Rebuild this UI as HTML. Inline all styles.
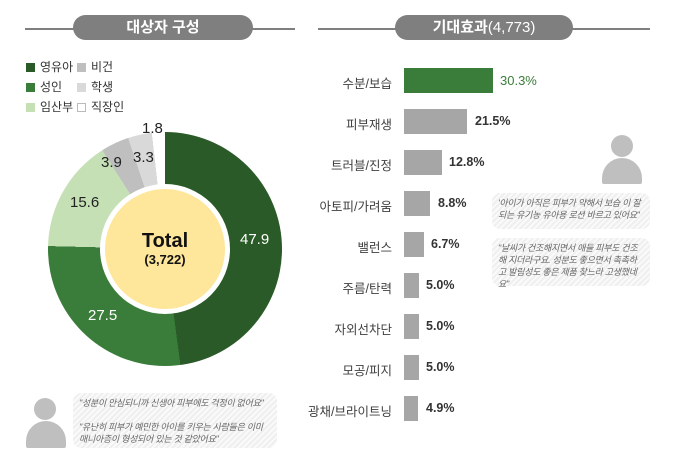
<!DOCTYPE html><html><head><meta charset="utf-8"><style>
body{margin:0;width:680px;height:451px;background:#fff;position:relative;overflow:hidden;font-family:"Liberation Sans","Noto Sans CJK KR",sans-serif;}
.a{position:absolute}
.line{position:absolute;height:2px;background:#7f7f7f}
.pill{position:absolute;background:#7f7f7f;color:#fff;border-radius:13px;text-align:center;font-weight:bold;font-size:15px;line-height:25px}
.lg{position:absolute;font-size:12px;color:#333;line-height:14px}
.sq{display:inline-block;width:9px;height:9px;margin-right:5px;vertical-align:-1px}
.lab{position:absolute;left:290px;width:102px;text-align:right;font-size:12.5px;color:#404040}
.bar{position:absolute;left:404px;height:25px;background:#a6a6a6}
.val{position:absolute;font-size:12.5px;font-weight:bold;color:#333}
.q{position:absolute;border-radius:8px;background:repeating-linear-gradient(135deg,#efefef 0 2px,#fafafa 2px 4px);font-style:italic;font-size:9px;color:#666;line-height:12px;padding:4px 6px;box-sizing:border-box;letter-spacing:-0.3px}
.pl{position:absolute;font-size:15px;color:#222}
</style></head><body>
<div class="line" style="left:25px;top:28px;width:270px"></div>
<div class="pill" style="left:73px;top:15px;width:180px">대상자 구성</div>
<div class="line" style="left:318px;top:28px;width:332px"></div>
<div class="pill" style="left:395px;top:15px;width:178px">기대효과<span style="font-weight:normal">(4,773)</span></div>

<div class="lg" style="left:26px;top:60px"><span class="sq" style="background:#2a5a27"></span>영유아</div>
<div class="lg" style="left:77px;top:60px"><span class="sq" style="background:#bfbfbf"></span>비건</div>
<div class="lg" style="left:26px;top:80px"><span class="sq" style="background:#3a7d3a"></span>성인</div>
<div class="lg" style="left:77px;top:80px"><span class="sq" style="background:#d9d9d9"></span>학생</div>
<div class="lg" style="left:26px;top:100px"><span class="sq" style="background:#c5e0b4"></span>임산부</div>
<div class="lg" style="left:77px;top:100px"><span class="sq" style="background:#fff;border:1px solid #bbb;width:7px;height:7px"></span>직장인</div>

<div class="a" style="left:48px;top:132px;width:234px;height:234px;border-radius:50%;background:conic-gradient(#2a5a27 0 47.9%,#3a7d3a 47.9% 75.4%,#c5e0b4 75.4% 91%,#bfbfbf 91% 94.9%,#d9d9d9 94.9% 98.2%,#fff 98.2% 100%)"></div>
<div class="a" style="left:100px;top:184px;width:130px;height:130px;border-radius:50%;background:#fff"></div>
<div class="a" style="left:105px;top:189px;width:120px;height:120px;border-radius:50%;background:#fee69a"></div>
<div class="a" style="left:105px;top:230px;width:120px;text-align:center;font-weight:bold;font-size:20px;color:#111">Total</div>
<div class="a" style="left:105px;top:252px;width:120px;text-align:center;font-weight:bold;font-size:13px;color:#111">(3,722)</div>
<div class="pl" style="left:240px;top:231px;color:#fff">47.9</div>
<div class="pl" style="left:88px;top:307px;color:#fff">27.5</div>
<div class="pl" style="left:70px;top:194px">15.6</div>
<div class="pl" style="left:101px;top:154px">3.9</div>
<div class="pl" style="left:133px;top:149px">3.3</div>
<div class="pl" style="left:142px;top:120px">1.8</div>

<div class="a" style="left:34px;top:398px;width:22px;height:22px;border-radius:50%;background:#bfbfbf"></div>
<div class="a" style="left:26px;top:421px;width:40px;height:27px;border-radius:20px 20px 2px 2px;background:#bfbfbf"></div>
<div class="q" style="left:73px;top:393px;width:204px;height:55px">"성분이 안심되니까 신생아 피부에도 걱정이 없어요"<br><br>"유난히 피부가 예민한 아이를 키우는 사람들은 이미 매니아층이 형성되어 있는 것 같았어요"</div>

<div class="lab" style="top:73px">수분/보습</div><div class="bar" style="top:68px;width:89px;background:#3a7d3a"></div><div class="val" style="left:500px;top:73px;color:#3a7d3a;font-weight:normal;font-size:13px">30.3%</div>
<div class="lab" style="top:114px">피부재생</div><div class="bar" style="top:109px;width:63px"></div><div class="val" style="left:475px;top:114px">21.5%</div>
<div class="lab" style="top:155px">트러블/진정</div><div class="bar" style="top:150px;width:38px"></div><div class="val" style="left:449px;top:155px">12.8%</div>
<div class="lab" style="top:196px">아토피/가려움</div><div class="bar" style="top:191px;width:26px"></div><div class="val" style="left:438px;top:196px">8.8%</div>
<div class="lab" style="top:237px">밸런스</div><div class="bar" style="top:232px;width:20px"></div><div class="val" style="left:431px;top:237px">6.7%</div>
<div class="lab" style="top:278px">주름/탄력</div><div class="bar" style="top:273px;width:15px"></div><div class="val" style="left:426px;top:278px">5.0%</div>
<div class="lab" style="top:319px">자외선차단</div><div class="bar" style="top:314px;width:15px"></div><div class="val" style="left:426px;top:319px">5.0%</div>
<div class="lab" style="top:360px">모공/피지</div><div class="bar" style="top:355px;width:15px"></div><div class="val" style="left:426px;top:360px">5.0%</div>
<div class="lab" style="top:401px">광채/브라이트닝</div><div class="bar" style="top:396px;width:14px"></div><div class="val" style="left:426px;top:401px">4.9%</div>

<div class="a" style="left:611px;top:135px;width:22px;height:22px;border-radius:50%;background:#bfbfbf"></div>
<div class="a" style="left:602px;top:158px;width:40px;height:26px;border-radius:20px 20px 2px 2px;background:#bfbfbf"></div>
<div class="q" style="left:492px;top:193px;width:158px;height:36px">'아이가 아직은 피부가 약해서 보습 이 잘 되는 유기농 유아용 로션 바르고 있어요"</div>
<div class="q" style="left:492px;top:238px;width:158px;height:48px">"날씨가 건조해지면서 애들 피부도 건조해 지더라구요. 성분도 좋으면서 촉촉하고 발림성도 좋은 제품 찾느라 고생했네요"</div>
</body></html>
